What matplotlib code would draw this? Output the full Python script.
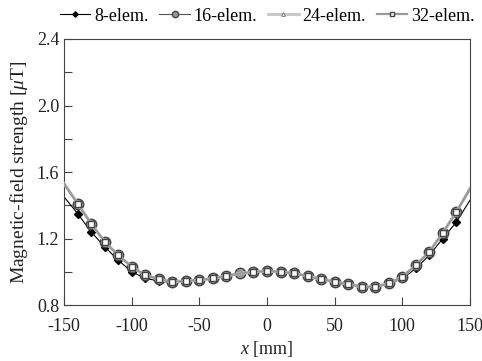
import numpy as np
import matplotlib.pyplot as plt
from matplotlib.ticker import MultipleLocator

plt.rcParams["font.family"] = ["Liberation Serif", "DejaVu Serif"]
plt.rcParams["mathtext.fontset"] = "custom"
plt.rcParams["mathtext.it"] = "Liberation Serif:italic"
plt.rcParams["mathtext.rm"] = "Liberation Serif"
plt.rcParams["axes.unicode_minus"] = False

# position along the axis [mm]
x_mm = np.arange(-150, 151, 10)

# field strength [uT]
b_8 = [1.45, 1.35, 1.24, 1.15, 1.07, 1.00, 0.96, 0.945, 0.935, 0.94, 0.95,
       0.96, 0.975, 0.99, 1.00, 1.00, 1.00, 0.99, 0.975, 0.955, 0.935, 0.92,
       0.91, 0.91, 0.925, 0.96, 1.02, 1.10, 1.20, 1.30, 1.43]
b_16 = [1.52, 1.41, 1.29, 1.18, 1.10, 1.03, 0.98, 0.955, 0.94, 0.945, 0.95,
        0.96, 0.975, 0.99, 1.00, 1.005, 1.00, 0.99, 0.975, 0.955, 0.94, 0.925,
        0.91, 0.91, 0.93, 0.97, 1.04, 1.12, 1.235, 1.36, 1.49]
b_24 = [1.53, 1.41, 1.29, 1.18, 1.10, 1.03, 0.98, 0.955, 0.94, 0.945, 0.95,
        0.96, 0.975, 0.99, 1.00, 1.005, 1.00, 0.99, 0.975, 0.955, 0.94, 0.925,
        0.91, 0.91, 0.93, 0.97, 1.04, 1.12, 1.235, 1.36, 1.50]
b_32 = [1.53, 1.41, 1.29, 1.18, 1.10, 1.03, 0.98, 0.955, 0.94, 0.945, 0.95,
        0.96, 0.975, 0.99, 1.00, 1.005, 1.00, 0.99, 0.975, 0.955, 0.94, 0.925,
        0.91, 0.91, 0.93, 0.97, 1.04, 1.12, 1.235, 1.36, 1.50]

fig = plt.figure(figsize=(4.82, 3.61), dpi=100)
ax = fig.add_axes([0.133, 0.155, 0.842, 0.737])

inner = list(range(1, len(x_mm) - 1))
inner_sq = [i for i in inner if x_mm[i] != -20]

ax.plot(x_mm, b_8, color="black", lw=0.8, marker="D", ms=4.5,
        mfc="black", mec="black", markevery=inner, label="8-elem.", zorder=2)
ax.plot(x_mm, b_16, color="#555555", lw=0.8, marker="o", ms=7.5,
        mfc="#999999", mec="#444444", mew=1.0, markevery=inner,
        label="16-elem.", zorder=3)
ax.plot(x_mm, b_24, color="#c8c8c8", lw=2.2, marker="^", ms=4.5,
        mfc="white", mec="#888888", mew=0.8, markevery=inner_sq,
        label="24-elem.", zorder=4)
ax.plot(x_mm, b_32, color="#999999", lw=1.6, marker="s", ms=5,
        mfc="white", mec="#444444", mew=1.0, markevery=inner_sq,
        label="32-elem.", zorder=5)

ax.set_xlim(-150, 150)
ax.set_ylim(0.8, 2.4)
ax.xaxis.set_major_locator(MultipleLocator(50))
ax.yaxis.set_major_locator(MultipleLocator(0.4))
ax.yaxis.set_minor_locator(MultipleLocator(0.2))
ax.yaxis.set_major_formatter(lambda v, p: f"{v:.1f}")
ax.tick_params(which="both", direction="in", length=6, width=0.8,
               color="#444444", labelsize=13, labelcolor="#222222",
               top=False, right=False)
ax.tick_params(axis="x", pad=9)
for s in ax.spines.values():
    s.set_color("#444444")
    s.set_linewidth(0.8)

ax.set_xlabel("$x$ [mm]", fontsize=13, color="#222222", labelpad=3)
ax.set_ylabel(r"Magnetic-field strength [$\mu$T]", fontsize=14,
              color="#222222", labelpad=5)

ax.legend(loc="lower center", bbox_to_anchor=(0.5, 1.0), ncol=4,
          frameon=False, fontsize=13, handlelength=1.7, handletextpad=0.2,
          columnspacing=0.6, borderaxespad=0.4, markerscale=0.6)

fig.savefig("out.png", dpi=100)
